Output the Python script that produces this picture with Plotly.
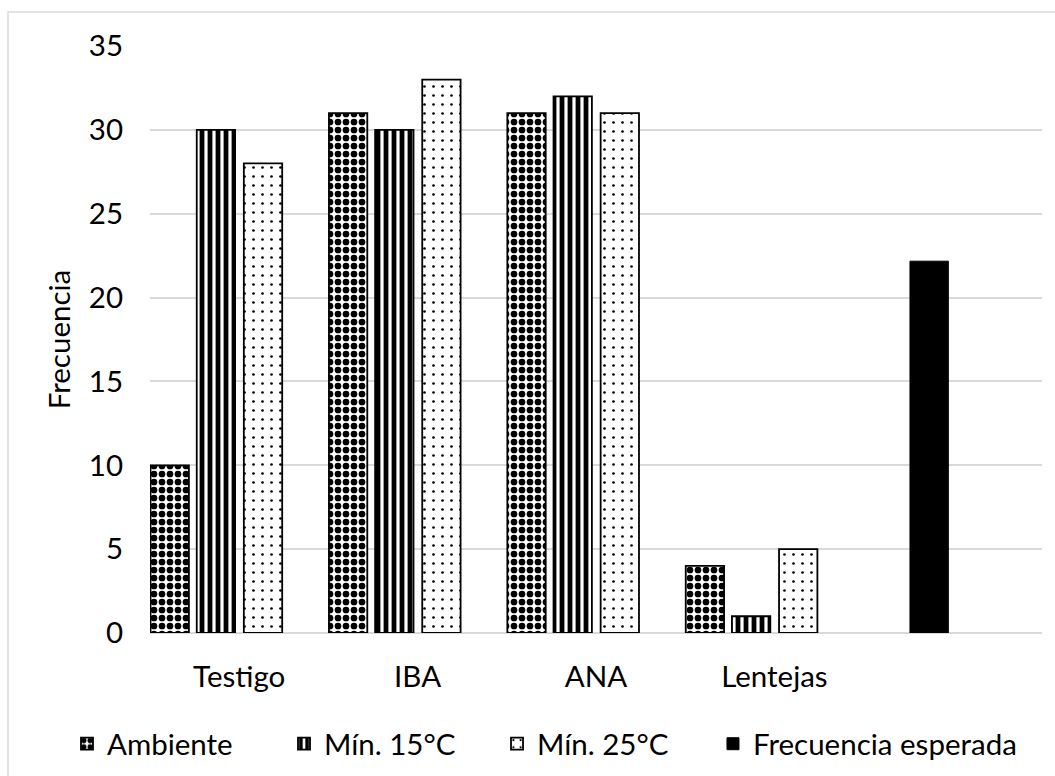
import plotly.graph_objects as go

categories = ["Testigo", "IBA", "ANA", "Lentejas", " "]
ambiente = [10, 31, 31, 4]
min15 = [30, 30, 32, 1]
min25 = [28, 33, 31, 5]
frecuencia_esperada = [22.17]
y_ticks = [0, 5, 10, 15, 20, 25, 30, 35]

FONT = "Lato"
FS = 29.5
bar_w = 0.215
outline = dict(color="black", width=1.8)

fig = go.Figure()
fig.add_trace(go.Bar(
    name="Ambiente", x=categories[:4], y=ambiente, legend="legend",
    width=bar_w, offset=-0.497,
    marker=dict(color="white", line=outline,
                pattern=dict(shape=".", fgcolor="black", bgcolor="white",
                             size=8, solidity=0.55, fgopacity=1, fillmode="overlay")),
))
fig.add_trace(go.Bar(
    name="Mín. 15°C", x=categories[:4], y=min15, legend="legend2",
    width=bar_w, offset=-0.238,
    marker=dict(color="white", line=outline,
                pattern=dict(shape="|", fgcolor="black", bgcolor="white",
                             size=8, solidity=0.6, fgopacity=1, fillmode="overlay")),
))
fig.add_trace(go.Bar(
    name="Mín. 25°C", x=categories[:4], y=min25, legend="legend3",
    width=bar_w, offset=0.026,
    marker=dict(color="white", line=outline,
                pattern=dict(shape=".", fgcolor="black", bgcolor="white",
                             size=9, solidity=0.07, fgopacity=1, fillmode="overlay")),
))
fig.add_trace(go.Bar(
    name="Frecuencia esperada", x=categories[4:], y=frecuencia_esperada, legend="legend4",
    width=bar_w, offset=-0.24,
    marker=dict(color="black", line=dict(color="black", width=1)),
))


def leg(x):
    return dict(orientation="h", xref="container", yref="container",
                x=x, xanchor="left", y=0.0412, yanchor="middle",
                font=dict(family=FONT, size=FS, color="black"),
                bgcolor="rgba(0,0,0,0)", borderwidth=0)


fig.update_layout(
    width=1055, height=776,
    margin=dict(l=150, r=13, t=46, b=143),
    barmode="overlay",
    paper_bgcolor="white", plot_bgcolor="white",
    font=dict(family=FONT, size=FS, color="black"),
    showlegend=True,
    legend=leg(0.0635),
    legend2=leg(0.2692),
    legend3=leg(0.4711),
    legend4=leg(0.6758),
    xaxis=dict(type="category", categoryorder="array", categoryarray=categories,
               range=[-0.5, 4.5], showgrid=False, showline=False, zeroline=False,
               ticks="", ticklabelstandoff=23,
               tickfont=dict(family=FONT, size=FS, color="black")),
    yaxis=dict(range=[0, 35], tickvals=y_ticks, showgrid=True,
               gridcolor="#d9d9d9", gridwidth=1.5,
               zeroline=True, zerolinecolor="#d9d9d9", zerolinewidth=1.5,
               showline=False, ticks="", ticklabelstandoff=26,
               tickfont=dict(family=FONT, size=FS, color="black"),
               title=dict(text="Frecuencia", standoff=9,
                          font=dict(family=FONT, size=FS, color="black"))),
    shapes=[dict(type="rect", xref="paper", yref="paper",
                 x0=-0.1592, x1=1.2, y0=-0.6, y1=1.058,
                 line=dict(color="#d9d9d9", width=1.5), fillcolor="rgba(0,0,0,0)",
                 layer="below")],
)

fig.write_html("out.html")
